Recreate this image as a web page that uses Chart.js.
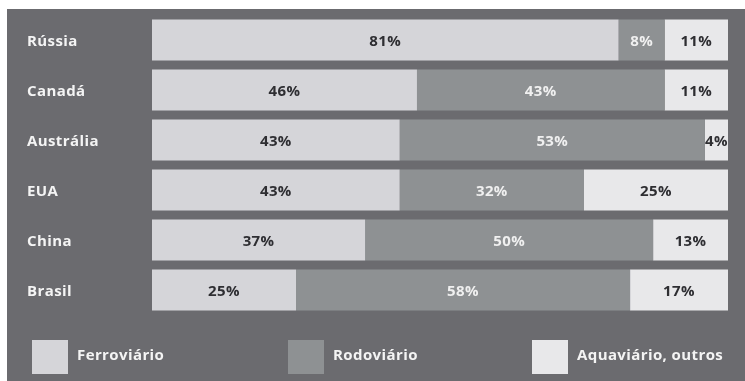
<!DOCTYPE html>
<html>
<head>
<meta charset="utf-8">
<script src="https://cdn.jsdelivr.net/npm/chart.js@4.4.1/dist/chart.umd.min.js"></script>
<style>
    html, body { margin: 0; padding: 0; background: #fff; }
    #wrap { width: 745px; height: 381px; }
</style>
</head>
<body>
<div id="wrap"><canvas id="modalChart" width="745" height="381"></canvas></div>
<script>
const countries = ['Rússia', 'Canadá', 'Austrália', 'EUA', 'China', 'Brasil'];
const seriesNames = ['Ferroviário', 'Rodoviário', 'Aquaviário, outros'];
const ferroviario = [81, 46, 43, 43, 37, 25];
const rodoviario = [8, 43, 53, 32, 50, 58];
const aquaviario = [11, 11, 4, 25, 13, 17];

const FONT = "'Open Sans', sans-serif";
const colors = ['#d5d5d9', '#8e9193', '#e8e8ea'];
const labelColors = ['#2e2e32', '#f0f0f0', '#2e2e32'];
const legendX = [32, 288, 532]; // left edge of each legend box

// dark panel behind everything, plus a little letter spacing for all text
const panelBg = {
    id: 'panelBg',
    beforeDraw(chart) {
        const ctx = chart.ctx;
        ctx.letterSpacing = '0.4px';
        ctx.save();
        ctx.fillStyle = '#6b6b6f';
        ctx.fillRect(7, 9, chart.width - 7, chart.height - 9);
        ctx.restore();
    }
};

// percentage text in the middle of each segment
const segmentLabels = {
    id: 'segmentLabels',
    afterDatasetsDraw(chart) {
        const ctx = chart.ctx;
        ctx.save();
        ctx.font = `bold 15px ${FONT}`;
        ctx.textAlign = 'center';
        ctx.textBaseline = 'middle';
        chart.data.datasets.forEach((ds, i) => {
            const meta = chart.getDatasetMeta(i);
            ctx.fillStyle = labelColors[i];
            meta.data.forEach((bar, j) => {
                const cx = (bar.x + bar.base) / 2;
                ctx.fillText(ds.data[j] + '%', cx, bar.y + 2);
            });
        });
        ctx.restore();
    }
};

// legend boxes along the bottom
const bottomLegend = {
    id: 'bottomLegend',
    afterDraw(chart) {
        const ctx = chart.ctx;
        ctx.save();
        ctx.font = `bold 15px ${FONT}`;
        ctx.textBaseline = 'middle';
        chart.data.datasets.forEach((ds, i) => {
            const x = legendX[i];
            ctx.fillStyle = ds.backgroundColor;
            ctx.fillRect(x, 340, 36, 34);
            ctx.fillStyle = '#f4f4f4';
            ctx.fillText(ds.label, x + 45, 356);
        });
        ctx.restore();
    }
};

const ctx = document.getElementById('modalChart').getContext('2d');
new Chart(ctx, {
    type: 'bar',
    data: {
        labels: countries,
        datasets: [
            { label: seriesNames[0], data: ferroviario, backgroundColor: colors[0] },
            { label: seriesNames[1], data: rodoviario, backgroundColor: colors[1] },
            { label: seriesNames[2], data: aquaviario, backgroundColor: colors[2] }
        ]
    },
    options: {
        indexAxis: 'y',
        responsive: false,
        animation: false,
        layout: { padding: { left: 27, top: 15, right: 17, bottom: 66 } },
        datasets: {
            bar: { categoryPercentage: 1, barPercentage: 0.82, borderWidth: 0 }
        },
        scales: {
            x: { stacked: true, min: 0, max: 100, display: false },
            y: {
                stacked: true,
                grid: { display: false },
                border: { display: false },
                ticks: {
                    color: '#f4f4f4',
                    font: { family: FONT, size: 15, weight: 'bold' },
                    crossAlign: 'far',
                    labelOffset: 2,
                    padding: 0
                },
                afterFit(scale) { scale.width = 125; }
            }
        },
        plugins: {
            legend: { display: false },
            tooltip: { enabled: false }
        }
    },
    plugins: [panelBg, segmentLabels, bottomLegend]
});
</script>
</body>
</html>
